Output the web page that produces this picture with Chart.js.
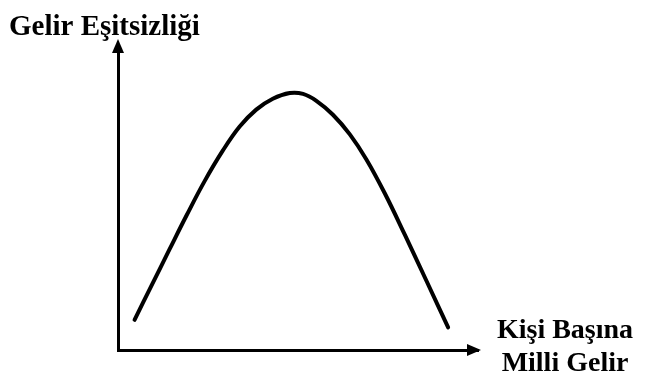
<!DOCTYPE html>
<html><head><meta charset="utf-8">
<script src="https://cdn.jsdelivr.net/npm/chart.js@4/dist/chart.umd.min.js"></script>
<style>html,body{margin:0;padding:0;background:#fff}#wrap{width:664px;height:380px}</style>
</head><body><div id="wrap"><canvas id="c"></canvas></div>
<script>
const incomeX = [4.6, 9.3, 14.3, 19.1, 24.1, 29.1, 33.8, 38.4, 43.0, 47.7, 51.4, 55.1, 59.7, 64.4, 69.0, 74.1, 79.7, 85.8, 91.7];
const inequalityY = [10.0, 21.3, 33.3, 44.7, 56.0, 66.0, 74.0, 79.6, 83.2, 85.1, 84.8, 82.5, 77.9, 71.4, 63.1, 51.9, 38.1, 22.6, 7.5];
const yAxisLabel = "Gelir Eşitsizliği";
const xAxisLabel = ["Kişi Başına", "Milli Gelir"];

const points = incomeX.map((x, i) => ({x, y: inequalityY[i]}));

const arrowsAndLabels = {
  id: 'arrowsAndLabels',
  afterDraw(chart) {
    const {ctx, chartArea: a} = chart;
    ctx.save();
    ctx.fillStyle = '#000';
    ctx.beginPath();
    ctx.moveTo(a.left, a.top - 9);
    ctx.lineTo(a.left - 6, a.top + 5);
    ctx.lineTo(a.left + 6, a.top + 5);
    ctx.closePath(); ctx.fill();
    ctx.beginPath();
    ctx.moveTo(a.right + 3, a.bottom);
    ctx.lineTo(a.right - 11, a.bottom - 6);
    ctx.lineTo(a.right - 11, a.bottom + 6);
    ctx.closePath(); ctx.fill();
    ctx.textBaseline = 'alphabetic';
    ctx.textAlign = 'left';
    ctx.font = 'bold 29px "Liberation Serif"';
    ctx.fillText(yAxisLabel, 9, 35);
    ctx.font = 'bold 28px "Liberation Serif"';
    ctx.textAlign = 'center';
    ctx.fillText(xAxisLabel[0], 565, 338);
    ctx.fillText(xAxisLabel[1], 565, 371);
    ctx.restore();
  }
};

new Chart(document.getElementById('c'), {
  type: 'scatter',
  data: { datasets: [{
    data: points, showLine: true, borderColor: '#000', borderWidth: 4,
    pointRadius: 0, tension: 0.4, fill: false, borderCapStyle: 'round'
  }]},
  options: {
    responsive: true, maintainAspectRatio: false, animation: false,
    layout: { padding: { left: 118, top: 48, right: 186, bottom: 30 } },
    plugins: { legend: {display: false}, tooltip: {enabled: false} },
    scales: {
      x: { type: 'linear', min: 0, max: 100,
        grid: {display: false, drawTicks: false},
        ticks: {display: false},
        border: {display: true, color: '#000', width: 3} },
      y: { type: 'linear', min: 0, max: 100,
        grid: {display: false, drawTicks: false},
        ticks: {display: false},
        border: {display: true, color: '#000', width: 3} }
    }
  },
  plugins: [arrowsAndLabels]
});
</script></body></html>
